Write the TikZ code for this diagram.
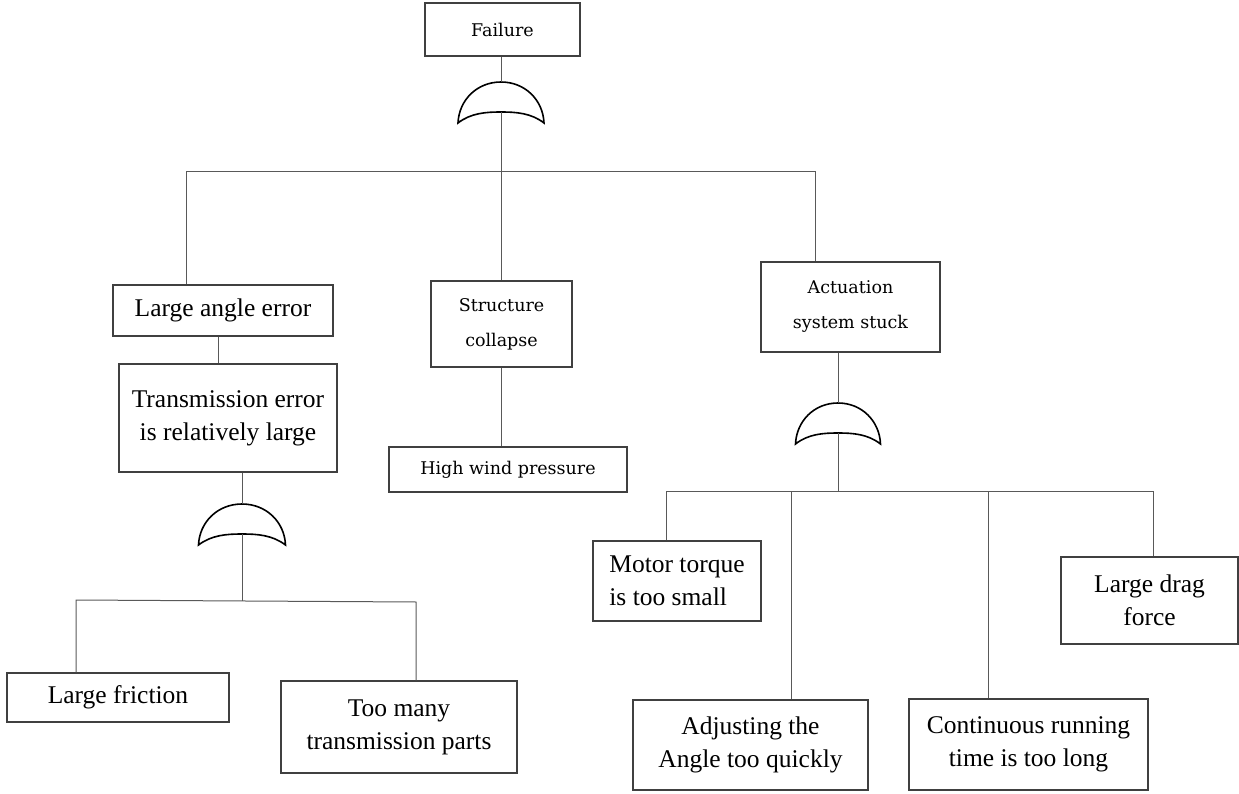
\documentclass[tikz,border=0pt]{standalone}
\usepackage{fontspec}
\setmainfont{Liberation Serif}
\newfontfamily\smallserif{DejaVu Serif}
\begin{document}
\begin{tikzpicture}[x=1pt,y=-1pt,
  box/.style={draw=black!75, line width=1.1pt, inner sep=0pt, align=center,
    font=\fontsize{25.5}{33}\selectfont},
  sbox/.style={box, font=\smallserif\fontsize{17.5}{35}\selectfont},
  conn/.style={draw=black!65, line width=1pt},
  gatestyle/.style={draw=black, line width=1.6pt, line join=miter}
]
\useasboundingbox (0,0) rectangle (1239,794);

% boxes
\node[sbox, minimum width=155pt, minimum height=53pt] (fail) at (502.5,29.5) {Failure};
\node[box, minimum width=220pt, minimum height=51pt] (lae) at (223,310.5) {Large angle error};
\node[sbox, minimum width=141pt, minimum height=86pt] (sc) at (501.5,324) {Structure\\collapse};
\node[sbox, minimum width=179pt, minimum height=90pt] (act) at (850.5,307) {Actuation\\system stuck};
\node[box, minimum width=218pt, minimum height=108pt] (trans) at (228,418) {Transmission error\\is relatively large};
\node[sbox, minimum width=238pt, minimum height=45pt] (hwp) at (508,469.5) {High wind pressure};
\node[box, minimum width=222pt, minimum height=49pt] (lf) at (118,697.5) {Large friction};
\node[box, minimum width=236pt, minimum height=92pt] (tm) at (399,727) {Too many\\transmission parts};
\node[box, align=left, minimum width=168pt, minimum height=80pt] (motor) at (677,581) {Motor torque\\is too small};
\node[box, minimum width=177pt, minimum height=87pt] (drag) at (1149.5,600.5) {Large drag\\force};
\node[box, minimum width=235pt, minimum height=90pt] (adj) at (750.5,745) {Adjusting the\\Angle too quickly};
\node[box, minimum width=239pt, minimum height=91pt] (cont) at (1028.5,744.5) {Continuous running\\time is too long};

% gates: top point (gNt), inner apex (gNi)
\newcommand{\orgate}[4]{% name, x, y(top), halfwidth
  \coordinate (#1t) at (#2,#3);
  \coordinate (#1i) at (#2,#3+30);
  \draw[gatestyle] (#2-#4,#3+41) .. controls (#2-#4+1,#3+18) and (#2-#4*0.56,#3) .. (#2,#3)
     .. controls (#2+#4*0.56,#3) and (#2+#4-1,#3+18) .. (#2+#4,#3+41)
     .. controls (#2+#4*0.7,#3+31) and (#2+#4*0.35,#3+30) .. (#2,#3+30)
     .. controls (#2-#4*0.35,#3+30) and (#2-#4*0.7,#3+31) .. cycle;
}
\orgate{ga}{501}{82}{43}
\orgate{gb}{242}{504}{43.5}
\orgate{gc}{838}{403}{42.5}

% bus coordinates
\coordinate (aL) at (186,172);
\coordinate (aR) at (815,172);
\coordinate (xl) at (218,0);
\coordinate (busB) at (242,601);
\coordinate (bL) at (76,600);
\coordinate (bR) at (416,602);
\coordinate (busC) at (838,491);
\coordinate (c1) at (666,491);
\coordinate (c2) at (791,491);
\coordinate (c3) at (988,491);
\coordinate (c4) at (1153,491);

% connectors
\draw[conn] (fail.south -| gat) -- (gat);
\draw[conn] (gai) -- (sc.north -| gai);
\draw[conn] (lae.north -| aL) -- (aL) -- (aR) -- (act.north -| aR);
\draw[conn] (lae.south -| xl) -- (trans.north -| xl);
\draw[conn] (sc.south -| gai) -- (hwp.north -| gai);
\draw[conn] (trans.south -| gbt) -- (gbt);
\draw[conn] (gbi) -- (busB);
\draw[conn] (lf.north -| bL) -- (bL) -- (bR) -- (tm.north -| bR);
\draw[conn] (act.south -| gct) -- (gct);
\draw[conn] (gci) -- (busC);
\draw[conn] (motor.north -| c1) -- (c1) -- (c4) -- (drag.north -| c4);
\draw[conn] (c2) -- (adj.north -| c2);
\draw[conn] (c3) -- (cont.north -| c3);
\end{tikzpicture}
\end{document}
